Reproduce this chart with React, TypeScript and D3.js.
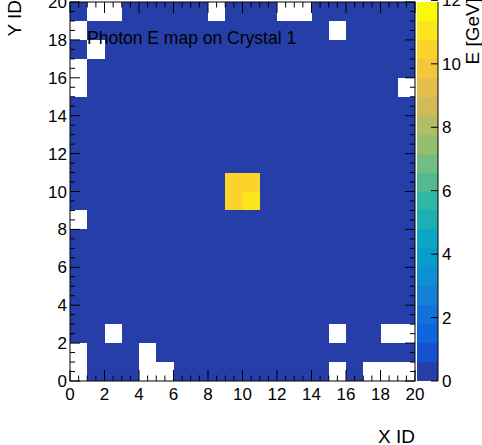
import React from "react";
import * as d3 from "d3";

// Energy per cell (GeV); rows listed from Y=19 (top) down to Y=0 (bottom), columns X=0..19
const energyRowsTopDown: number[][] = [
  [0.2, 0, 0, 0.2, 0.2, 0.2, 0.2, 0.2, 0, 0.2, 0.2, 0.2, 0, 0, 0.2, 0.2, 0.2, 0.2, 0.2, 0.2],
  [0, 0.2, 0.2, 0.2, 0.2, 0.2, 0.2, 0.2, 0.2, 0.2, 0.2, 0.2, 0.2, 0.2, 0.2, 0, 0.2, 0.2, 0.2, 0.2],
  [0.2, 0, 0.2, 0.2, 0.2, 0.2, 0.2, 0.2, 0.2, 0.2, 0.2, 0.2, 0.2, 0.2, 0.2, 0.2, 0.2, 0.2, 0.2, 0.2],
  [0, 0.2, 0.2, 0.2, 0.2, 0.2, 0.2, 0.2, 0.2, 0.2, 0.2, 0.2, 0.2, 0.2, 0.2, 0.2, 0.2, 0.2, 0.2, 0.2],
  [0, 0.2, 0.2, 0.2, 0.2, 0.2, 0.2, 0.2, 0.2, 0.2, 0.2, 0.2, 0.2, 0.2, 0.2, 0.2, 0.2, 0.2, 0.2, 0],
  [0.2, 0.2, 0.2, 0.2, 0.2, 0.2, 0.2, 0.2, 0.2, 0.2, 0.2, 0.2, 0.2, 0.2, 0.2, 0.2, 0.2, 0.2, 0.2, 0.2],
  [0.2, 0.2, 0.2, 0.2, 0.2, 0.2, 0.2, 0.2, 0.2, 0.2, 0.2, 0.2, 0.2, 0.2, 0.2, 0.2, 0.2, 0.2, 0.2, 0.2],
  [0.2, 0.2, 0.2, 0.2, 0.2, 0.2, 0.2, 0.2, 0.2, 0.2, 0.2, 0.2, 0.2, 0.2, 0.2, 0.2, 0.2, 0.2, 0.2, 0.2],
  [0.2, 0.2, 0.2, 0.2, 0.2, 0.2, 0.2, 0.2, 0.2, 0.2, 0.2, 0.2, 0.2, 0.2, 0.2, 0.2, 0.2, 0.2, 0.2, 0.2],
  [0.2, 0.2, 0.2, 0.2, 0.2, 0.2, 0.2, 0.2, 0.2, 10.5, 10.5, 0.2, 0.2, 0.2, 0.2, 0.2, 0.2, 0.2, 0.2, 0.2],
  [0.2, 0.2, 0.2, 0.2, 0.2, 0.2, 0.2, 0.2, 0.2, 10.5, 11.0, 0.2, 0.2, 0.2, 0.2, 0.2, 0.2, 0.2, 0.2, 0.2],
  [0, 0.2, 0.2, 0.2, 0.2, 0.2, 0.2, 0.2, 0.2, 0.2, 0.2, 0.2, 0.2, 0.2, 0.2, 0.2, 0.2, 0.2, 0.2, 0.2],
  [0.2, 0.2, 0.2, 0.2, 0.2, 0.2, 0.2, 0.2, 0.2, 0.2, 0.2, 0.2, 0.2, 0.2, 0.2, 0.2, 0.2, 0.2, 0.2, 0.2],
  [0.2, 0.2, 0.2, 0.2, 0.2, 0.2, 0.2, 0.2, 0.2, 0.2, 0.2, 0.2, 0.2, 0.2, 0.2, 0.2, 0.2, 0.2, 0.2, 0.2],
  [0.2, 0.2, 0.2, 0.2, 0.2, 0.2, 0.2, 0.2, 0.2, 0.2, 0.2, 0.2, 0.2, 0.2, 0.2, 0.2, 0.2, 0.2, 0.2, 0.2],
  [0.2, 0.2, 0.2, 0.2, 0.2, 0.2, 0.2, 0.2, 0.2, 0.2, 0.2, 0.2, 0.2, 0.2, 0.2, 0.2, 0.2, 0.2, 0.2, 0.2],
  [0.2, 0.2, 0.2, 0.2, 0.2, 0.2, 0.2, 0.2, 0.2, 0.2, 0.2, 0.2, 0.2, 0.2, 0.2, 0.2, 0.2, 0.2, 0.2, 0.2],
  [0.2, 0.2, 0, 0.2, 0.2, 0.2, 0.2, 0.2, 0.2, 0.2, 0.2, 0.2, 0.2, 0.2, 0.2, 0, 0.2, 0.2, 0, 0],
  [0, 0.2, 0.2, 0.2, 0, 0.2, 0.2, 0.2, 0.2, 0.2, 0.2, 0.2, 0.2, 0.2, 0.2, 0.2, 0.2, 0.2, 0.2, 0.2],
  [0, 0.2, 0.2, 0.2, 0, 0, 0.2, 0.2, 0.2, 0.2, 0.2, 0.2, 0.2, 0.2, 0.2, 0, 0.2, 0, 0, 0],
];

const xDomain = [0, 20];
const yDomain = [0, 20];
const zDomain = [0, 11.95];
const xTickValues = [0, 2, 4, 6, 8, 10, 12, 14, 16, 18, 20];
const yTickValues = [0, 2, 4, 6, 8, 10, 12, 14, 16, 18, 20];
const zTickValues = [0, 2, 4, 6, 8, 10, 12];
const nContours = 20;

const titleText = "Photon E map on Crystal 1";
const xTitle = "X ID";
const yTitle = "Y ID";
const zTitle = "E [GeV]";

// ROOT kBird palette stops
const birdStops = [0.0, 0.125, 0.25, 0.375, 0.5, 0.625, 0.75, 0.875, 1.0];
const birdRed = [0.2082, 0.0592, 0.078, 0.0232, 0.1802, 0.5301, 0.8186, 0.9956, 0.9764];
const birdGreen = [0.1664, 0.3599, 0.5041, 0.6419, 0.7178, 0.7492, 0.7328, 0.7862, 0.9832];
const birdBlue = [0.5293, 0.8684, 0.8385, 0.7914, 0.6425, 0.4662, 0.3499, 0.1968, 0.0539];

function buildPalette(nColors: number): string[] {
  const out: string[] = [];
  for (let g = 1; g < birdStops.length; g++) {
    const n = Math.floor(nColors * birdStops[g]) - Math.floor(nColors * birdStops[g - 1]);
    for (let c = 0; c < n; c++) {
      const f = c / n;
      const r = birdRed[g - 1] + f * (birdRed[g] - birdRed[g - 1]);
      const gg = birdGreen[g - 1] + f * (birdGreen[g] - birdGreen[g - 1]);
      const b = birdBlue[g - 1] + f * (birdBlue[g] - birdBlue[g - 1]);
      out.push(d3.rgb(r * 255, gg * 255, b * 255).formatHex());
    }
  }
  return out;
}

const palette = buildPalette(255);

function levelColor(level: number): string {
  let idx = Math.floor((level + 0.99) * palette.length / nContours);
  if (idx > palette.length - 1) idx = palette.length - 1;
  return palette[idx];
}

function valueColor(v: number): string {
  const scale = nContours / (zDomain[1] - zDomain[0]);
  let lvl = Math.floor(0.01 + (v - zDomain[0]) * scale);
  return levelColor(lvl);
}

const FONT = "'Liberation Sans', Arial, Helvetica, sans-serif";

export default function App() {
  const W = 482, H = 445;
  const fx0 = 70, fx1 = 415, fy0 = 2, fy1 = 381;
  const x = d3.scaleLinear().domain(xDomain).range([fx0, fx1]);
  const y = d3.scaleLinear().domain(yDomain).range([fy1, fy0]);
  const cbx0 = 417, cbx1 = 438;
  const z = d3.scaleLinear().domain(zDomain).range([fy1, fy0]);

  const nRows = energyRowsTopDown.length;
  const cells: { ix: number; iy: number; v: number }[] = [];
  energyRowsTopDown.forEach((row, r) => {
    const iy = nRows - 1 - r;
    row.forEach((v, ix) => {
      if (v > 0) cells.push({ ix, iy, v });
    });
  });

  const xMinor = d3.range(xDomain[0], xDomain[1] + 0.001, 0.5);
  const yMinor = d3.range(yDomain[0], yDomain[1] + 0.001, 0.5);
  const bandW = (zDomain[1] - zDomain[0]) / nContours;
  const bands = d3.range(nContours);

  const majLenX = 11, minLenX = 5.5;
  const majLenY = 10, minLenY = 5;

  return (
    <svg width={W} height={H} style={{ position: "absolute", left: 0, top: 0, background: "#fff" }} fontFamily={FONT}>
      <rect x={0} y={0} width={W} height={H} fill="#fff" />
      {/* cells */}
      <g shapeRendering="crispEdges">
        {cells.map((c, i) => (
          <rect
            key={i}
            x={x(c.ix)}
            y={y(c.iy + 1)}
            width={x(c.ix + 1) - x(c.ix)}
            height={y(c.iy) - y(c.iy + 1)}
            fill={valueColor(c.v)}
          />
        ))}
      </g>
      {/* frame */}
      <rect x={fx0} y={fy0} width={fx1 - fx0} height={fy1 - fy0} fill="none" stroke="#000" strokeWidth={1} />
      {/* x ticks */}
      <g stroke="#000" strokeWidth={1}>
        {xMinor.map((t, i) => {
          const major = xTickValues.includes(t);
          const L = major ? majLenX : minLenX;
          return (
            <g key={i}>
              <line x1={x(t)} x2={x(t)} y1={fy1} y2={fy1 - L} />
              <line x1={x(t)} x2={x(t)} y1={fy0} y2={fy0 + L} />
            </g>
          );
        })}
        {yMinor.map((t, i) => {
          const major = yTickValues.includes(t);
          const L = major ? majLenY : minLenY;
          return (
            <g key={i}>
              <line x1={fx0} x2={fx0 + L} y1={y(t)} y2={y(t)} />
              <line x1={fx1} x2={fx1 - L} y1={y(t)} y2={y(t)} />
            </g>
          );
        })}
      </g>
      {/* tick labels */}
      <g fontSize={17} fill="#000">
        {xTickValues.map((t) => (
          <text key={t} x={x(t)} y={399.5} textAnchor="middle">{t}</text>
        ))}
        {yTickValues.map((t) => (
          <text key={t} x={67} y={y(t) + 6} textAnchor="end">{t}</text>
        ))}
      </g>
      {/* color bar */}
      <g shapeRendering="crispEdges">
        {bands.map((b) => (
          <rect
            key={b}
            x={cbx0}
            y={z(zDomain[0] + (b + 1) * bandW)}
            width={cbx1 - cbx0}
            height={z(zDomain[0] + b * bandW) - z(zDomain[0] + (b + 1) * bandW)}
            fill={levelColor(b)}
          />
        ))}
      </g>
      <line x1={cbx1} x2={cbx1} y1={fy0} y2={fy1} stroke="#000" strokeWidth={1} />
      <g stroke="#000" strokeWidth={1}>
        {zTickValues.map((t) => (
          <line key={t} x1={cbx1} x2={cbx1 - 7} y1={z(t)} y2={z(t)} />
        ))}
      </g>
      <g fontSize={17} fill="#000">
        {zTickValues.map((t) => (
          <text key={t} x={442} y={z(t) + 6} textAnchor="start">{t}</text>
        ))}
      </g>
      {/* titles */}
      <text x={87} y={44} fontSize={17.5} fill="#000">{titleText}</text>
      <text x={415} y={443} fontSize={19} textAnchor="end" fill="#000">{xTitle}</text>
      <text transform="translate(21,0) rotate(-90)" fontSize={19} textAnchor="end" fill="#000">{yTitle}</text>
      <text transform="translate(479,-2) rotate(-90)" fontSize={19} textAnchor="end" fill="#000">{zTitle}</text>
    </svg>
  );
}
